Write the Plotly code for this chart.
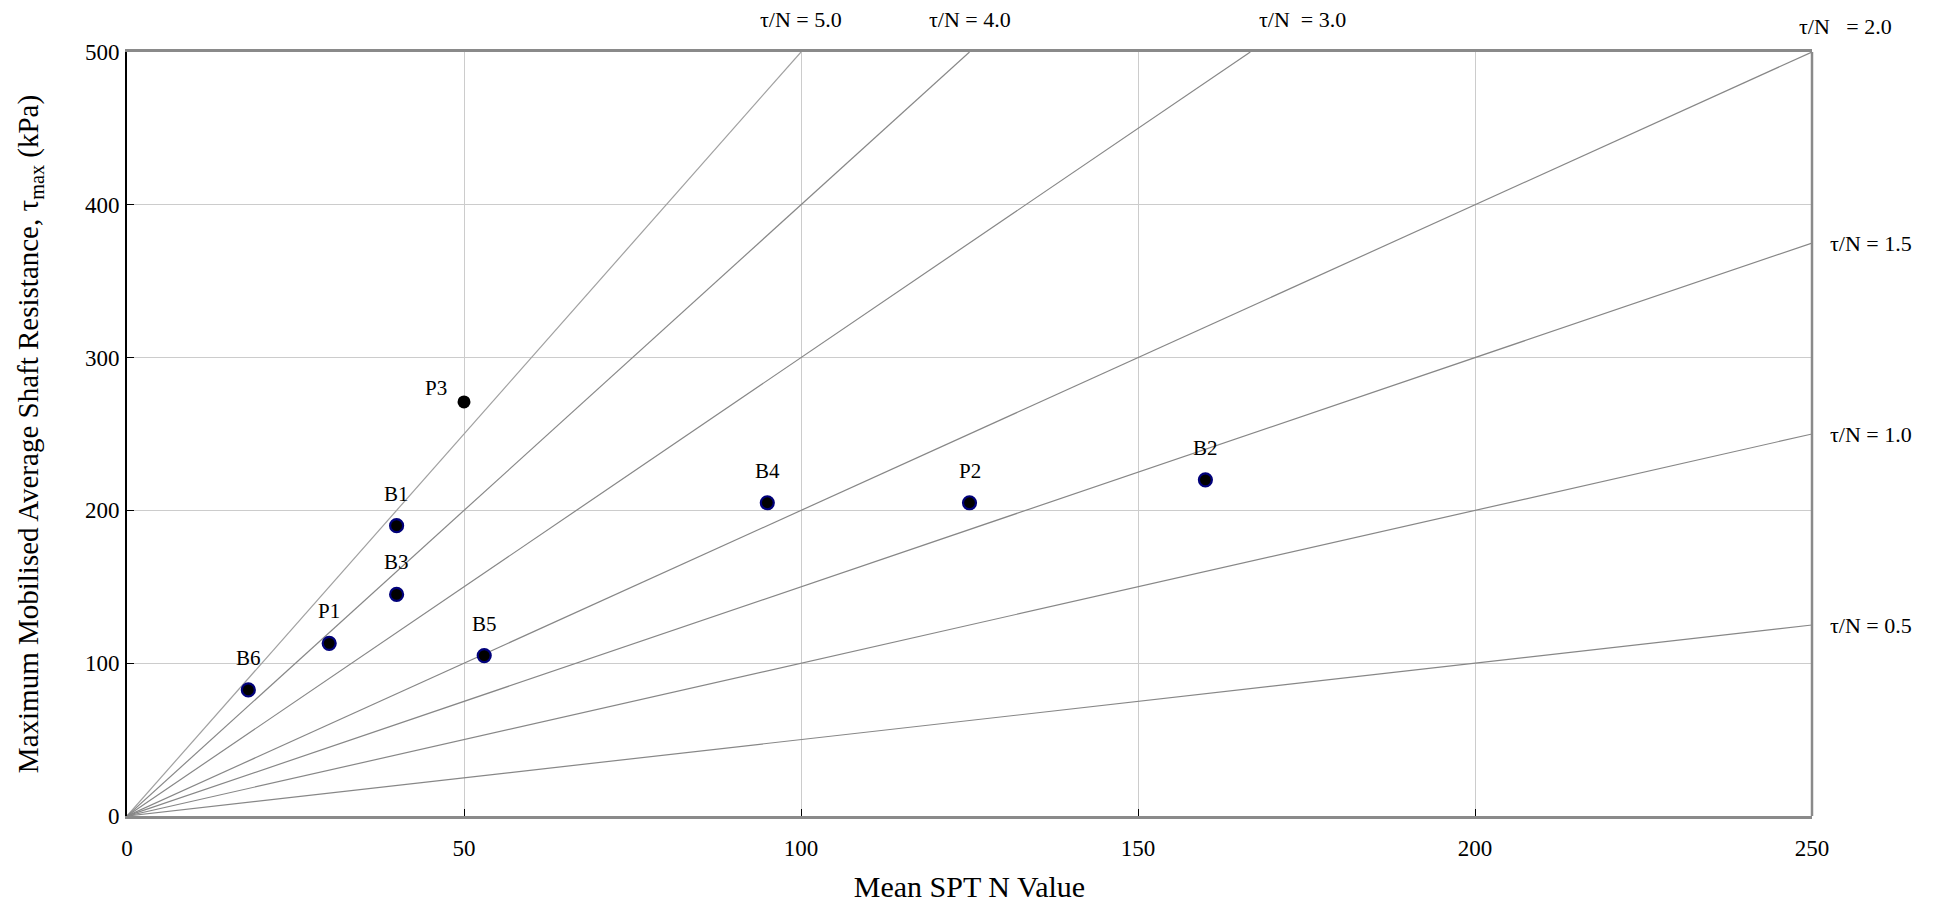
import plotly.graph_objects as go

# ---- data ----
pile_names = ["B6", "P1", "B3", "B1", "P3", "B5", "B4", "P2", "B2"]
spt_n = [18, 30, 40, 40, 50, 53, 95, 125, 160]
tau_max = [82.5, 113, 145, 190, 271, 105, 205, 205, 220]

ratios = [5.0, 4.0, 3.0, 2.0, 1.5, 1.0, 0.5]
ratio_labels = ["τ/N = 5.0", "τ/N = 4.0", "τ/N  = 3.0", "τ/N   = 2.0",
                "τ/N = 1.5", "τ/N = 1.0", "τ/N = 0.5"]

x_ticks = [0, 50, 100, 150, 200, 250]
y_ticks = [0, 100, 200, 300, 400, 500]

X_MAX, Y_MAX = 250, 500
FONT = "Liberation Serif, Times New Roman, serif"

fig = go.Figure()

# reference ratio lines from origin to box edge
for r in ratios:
    xe = min(X_MAX, Y_MAX / r)
    fig.add_trace(go.Scatter(
        x=[0, xe], y=[0, r * xe], mode="lines",
        line=dict(color="#a0a0a0" if r == 5.0 else "#878787", width=1.2),
        hoverinfo="skip", showlegend=False))

# data points (P3 plain black, others black with navy outline)
line_cols = ["#000000" if n == "P3" else "#00007a" for n in pile_names]
line_w = [0 if n == "P3" else 2.2 for n in pile_names]
fig.add_trace(go.Scatter(
    x=spt_n, y=tau_max, mode="markers",
    marker=dict(color="black", size=13, line=dict(color=line_cols, width=line_w)),
    showlegend=False, hovertext=pile_names))

# point labels
for n, xv, yv in zip(pile_names, spt_n, tau_max):
    if n == "P3":
        xs, ys = -28, 14
    else:
        xs, ys = 0, 32
    fig.add_annotation(x=xv, y=yv, text=n, showarrow=False, xshift=xs, yshift=ys,
                       font=dict(family=FONT, size=21, color="black"))

# ratio line labels
for r, lab in zip(ratios, ratio_labels):
    xe = min(X_MAX, Y_MAX / r)
    ye = r * xe
    if ye >= Y_MAX:
        xs = 0
        if r == 3.0:
            xs = 52
        if r == 2.0:
            xs = 33
        fig.add_annotation(x=xe, y=ye, text=lab, showarrow=False, xanchor="center",
                           yanchor="middle", xshift=xs, yshift=33 if r != 2.0 else 26,
                           font=dict(family=FONT, size=22, color="black"))
    else:
        fig.add_annotation(x=xe, y=ye, text=lab, showarrow=False, xanchor="left",
                           yanchor="middle", xshift=16,
                           font=dict(family=FONT, size=22, color="black"))

# right border
fig.add_shape(type="line", xref="paper", yref="paper", x0=1, x1=1, y0=0, y1=1,
              line=dict(color="#8a8a8a", width=2.5))

fig.update_xaxes(range=[0, X_MAX], tickvals=x_ticks, ticks="inside", ticklen=7,
                 tickcolor="black", showgrid=True, gridcolor="#cccccc", gridwidth=1,
                 showline=True, linecolor="#8a8a8a", linewidth=2.5, mirror=True,
                 zeroline=False, ticklabelstandoff=10,
                 tickfont=dict(family=FONT, size=23, color="black"),
                 title=dict(text="Mean SPT N Value", standoff=16,
                            font=dict(family=FONT, size=30, color="black")))
fig.update_yaxes(range=[0, Y_MAX], tickvals=y_ticks, ticks="inside", ticklen=7,
                 tickcolor="black", showgrid=True, gridcolor="#cccccc", gridwidth=1,
                 showline=True, linecolor="black", linewidth=2, mirror=False,
                 zeroline=False, ticklabelstandoff=1,
                 tickfont=dict(family=FONT, size=23, color="black"),
                 title=dict(text="Maximum Mobilised Average Shaft Resistance, τ<sub>max</sub> (kPa)",
                            standoff=38, font=dict(family=FONT, size=29, color="black")))

fig.update_layout(width=1933, height=906, plot_bgcolor="white", paper_bgcolor="white",
                  margin=dict(l=119, r=129, t=44, b=98, autoexpand=False),
                  font=dict(family=FONT))

fig.write_html("out.html")
